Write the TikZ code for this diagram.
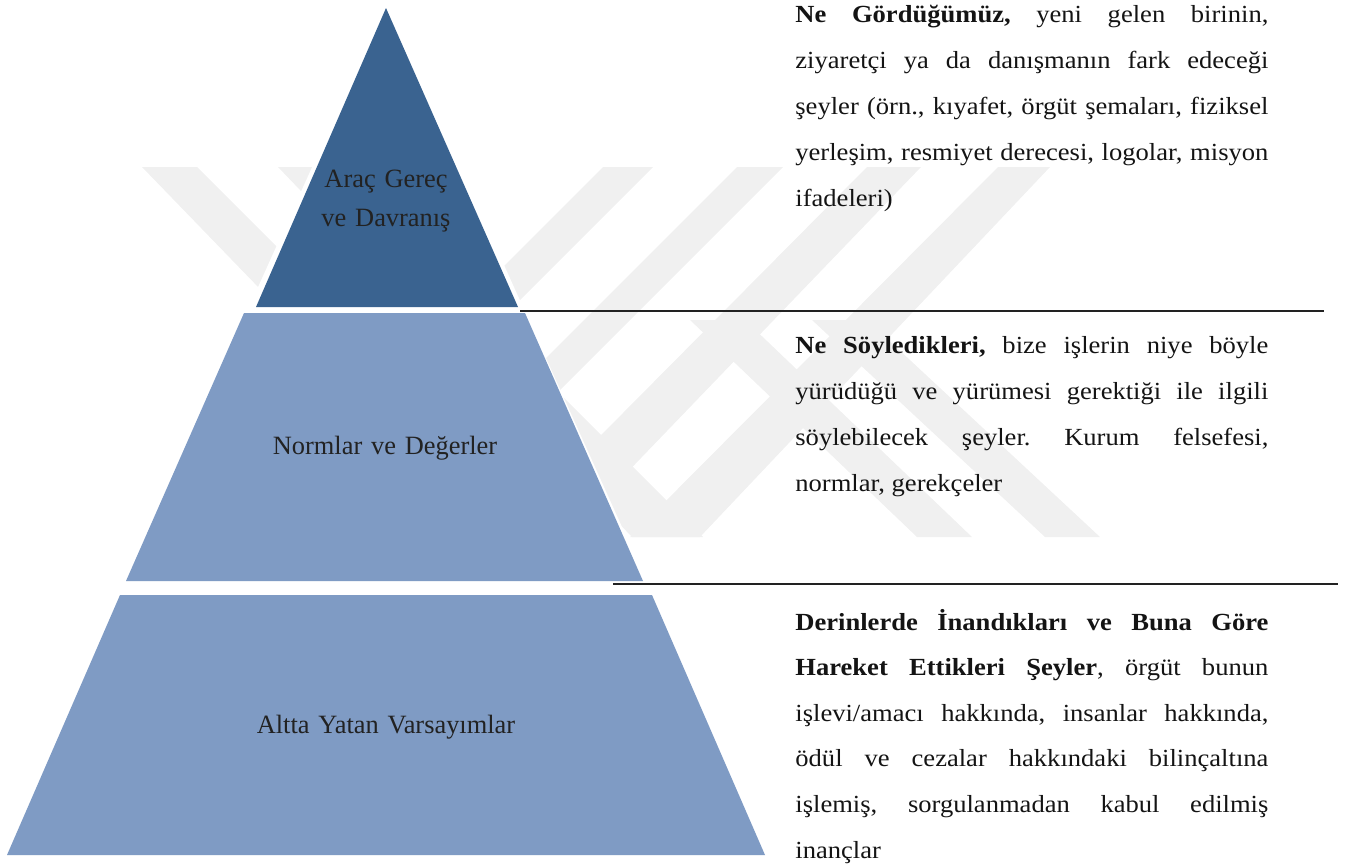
\documentclass[tikz,border=0pt]{standalone}
\usepackage{fontspec}
\setmainfont{Liberation Serif}
\newfontfamily\bodyfont[FakeStretch=1.08]{Liberation Serif}
\definecolor{topblue}{HTML}{3A6390}
\definecolor{lightblue}{HTML}{7F9BC4}
\definecolor{wmgray}{HTML}{F0F0F0}
\definecolor{inkgray}{HTML}{222222}
\tikzset{
  wm/.style={fill=wmgray},
  layertop/.style={fill=topblue},
  layer/.style={fill=lightblue},
  lbl/.style={inner sep=0pt, text=inkgray, font=\fontsize{13.2pt}{19.5pt}\selectfont, align=center, text width=220pt, anchor=base},
  desc/.style={inner sep=0pt, text=black!92, anchor=base west, text width=236.5pt, align=justify},
  rule/.style={draw=inkgray, line width=1.2pt}
}
\begin{document}
\begin{tikzpicture}[x=0.5pt,y=-0.5pt]
\useasboundingbox (0,0) rectangle (1351,867);
% watermark (faint)
\fill[wm] (142,167) -- (197,167) -- (567,537) -- (500,537) -- cycle;
\fill[wm] (278,167) -- (333,167) -- (703,537) -- (632,537) -- cycle;
\fill[wm] (867,167) -- (921,167) -- (565,537) -- (500,537) -- cycle;
\fill[wm] (998,167) -- (1050,167) -- (700,537) -- (630,537) -- cycle;
\fill[wm] (603,167) -- (653,167) -- (283,537) -- (233,537) -- cycle;
\fill[wm] (737,167) -- (783,167) -- (413,537) -- (367,537) -- cycle;
\fill[wm] (690,320) -- (745,320) -- (972,537) -- (917,537) -- cycle;
\fill[wm] (812,320) -- (867,320) -- (1100,537) -- (1045,537) -- cycle;
% white backing of the pyramid
\fill[white] (386,3) -- (772,860) -- (0,860) -- cycle;
% pyramid layers
\fill[layertop] (386,8) -- (518,307) -- (256,307) -- cycle;
\fill[layer] (244,313) -- (525,313) -- (643,581) -- (126,581) -- cycle;
\fill[layer] (120,595) -- (652,595) -- (765,855) -- (7,855) -- cycle;
% labels
\node[lbl] (lt) at (386,187) {Araç Gereç\\ve Davranış};
\node[lbl] (lm) at (385,454) {Normlar ve Değerler};
\node[lbl] (lb) at (386,733) {Altta Yatan Varsayımlar};
% separator lines
\coordinate (r1a) at (520,311);
\coordinate (r1b) at (1324,311);
\coordinate (r2a) at (613,584);
\coordinate (r2b) at (1338,584);
\draw[rule] (r1a) -- (r1b);
\draw[rule] (r2a) -- (r2b);
% descriptions
\node[desc, font=\bodyfont\fontsize{12.3pt}{23pt}\selectfont] (d1) at (795,23) {\frenchspacing\hyphenpenalty=10000\tolerance=10000
\textbf{Ne Gördüğümüz,} yeni gelen birinin,\linebreak ziyaretçi ya da danışmanın fark edeceği\linebreak şeyler (örn., kıyafet, örgüt şemaları, fiziksel\linebreak yerleşim, resmiyet derecesi, logolar, misyon\linebreak ifadeleri)};
\node[desc, font=\bodyfont\fontsize{12.3pt}{23.1pt}\selectfont] (d2) at (795,353) {\frenchspacing\hyphenpenalty=10000\tolerance=10000
\textbf{Ne Söyledikleri,} bize işlerin niye böyle\linebreak yürüdüğü ve yürümesi gerektiği ile ilgili\linebreak söylebilecek şeyler. Kurum felsefesi,\linebreak normlar, gerekçeler};
\node[desc, font=\bodyfont\fontsize{12.3pt}{22.8pt}\selectfont] (d3) at (795,630) {\frenchspacing\hyphenpenalty=10000\tolerance=10000
\textbf{Derinlerde İnandıkları ve Buna Göre\linebreak Hareket Ettikleri Şeyler}, örgüt bunun\linebreak işlevi/amacı hakkında, insanlar hakkında,\linebreak ödül ve cezalar hakkındaki bilinçaltına\linebreak işlemiş, sorgulanmadan kabul edilmiş\linebreak inançlar};
\end{tikzpicture}
\end{document}
